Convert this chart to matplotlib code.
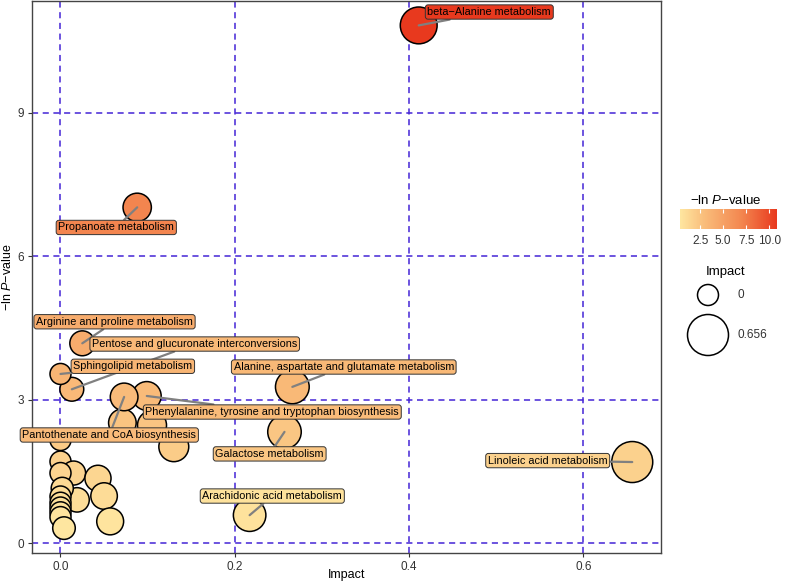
import numpy as np
import matplotlib
matplotlib.use("Agg")
import matplotlib.pyplot as plt
from matplotlib.colors import LinearSegmentedColormap, Normalize
from matplotlib.cm import ScalarMappable

plt.rcParams['font.family'] = ['Liberation Sans', 'DejaVu Sans']
plt.rcParams['mathtext.fontset'] = 'custom'
plt.rcParams['mathtext.rm'] = 'Liberation Sans'
plt.rcParams['mathtext.it'] = 'Liberation Sans:italic'

# labelled pathways: impact, -ln p, label position
names = ['beta\u2212Alanine metabolism', 'Propanoate metabolism',
         'Arginine and proline metabolism', 'Pentose and glucuronate interconversions',
         'Sphingolipid metabolism', 'Alanine, aspartate and glutamate metabolism',
         'Phenylalanine, tyrosine and tryptophan biosynthesis',
         'Pantothenate and CoA biosynthesis', 'Galactose metabolism',
         'Linoleic acid metabolism', 'Arachidonic acid metabolism']
impact = [0.411, 0.088, 0.025, 0.013, 0.0, 0.266, 0.099, 0.073, 0.257, 0.656, 0.217]
neglogp = [10.82, 7.02, 4.18, 3.22, 3.54, 3.27, 3.08, 3.06, 2.33, 1.70, 0.59]
label_x = [0.492, 0.064, 0.062, 0.154, 0.083, 0.325, 0.243, 0.056, 0.240, 0.559, 0.243]
label_y = [11.10, 6.60, 4.63, 4.165, 3.70, 3.685, 2.745, 2.265, 1.87, 1.73, 0.99]

# unlabelled pathways
other_impact = [0.071, 0.105, 0.130, 0.0, 0.0, 0.015, 0.0, 0.043, 0.050, 0.057,
                0.019, 0.002, 0.0, 0.0, 0.0, 0.0, 0.0, 0.004]
other_neglogp = [2.52, 2.47, 2.02, 2.16, 1.71, 1.47, 1.47, 1.36, 0.99, 0.46,
                 0.91, 1.15, 0.98, 0.85, 0.75, 0.65, 0.55, 0.32]

all_x = np.array(other_impact[:4] + impact[:8] + other_impact[4:] + impact[8:])
all_y = np.array(other_neglogp[:4] + neglogp[:8] + other_neglogp[4:] + neglogp[8:])

cmap = LinearSegmentedColormap.from_list(
    'pv', [(0, '#FEE6A0'), (0.255, '#F9BC7A'), (0.636, '#F3864F'), (1, '#E8391E')])
vmin, vmax = min(neglogp + other_neglogp), max(neglogp + other_neglogp)
norm = Normalize(vmin, vmax)
imp_max = max(impact)


def size_of(v):
    d_px = 21 + 20 * np.sqrt(np.asarray(v) / imp_max)
    return (d_px * 0.72) ** 2


fig = plt.figure(figsize=(7.85, 5.85), dpi=100)
ax = fig.add_axes([32 / 785, 1 - 553 / 585, 629 / 785, 552 / 585])

grid_c = '#4424D6'
for gx in [0, 0.2, 0.4, 0.6]:
    ax.axvline(gx, color=grid_c, ls=(0, (4, 3)), lw=1.1, zorder=0)
for gy in [0, 3, 6, 9]:
    ax.axhline(gy, color=grid_c, ls=(0, (4, 3)), lw=1.1, zorder=0)

ax.scatter(all_x, all_y, s=size_of(all_x), c=cmap(norm(all_y)),
           edgecolors='black', linewidths=1.1, zorder=2)

for n, x, y, lx, ly in zip(names, impact, neglogp, label_x, label_y):
    ax.annotate(n, xy=(x, y), xytext=(lx, ly), textcoords='data',
                ha='center', va='center', fontsize=7.8, color='black',
                bbox=dict(boxstyle='round,pad=0.2,rounding_size=0.25',
                          fc=cmap(norm(y)), ec='#333333', lw=0.7),
                arrowprops=dict(arrowstyle='-', color='#808080', lw=1.6,
                                shrinkA=0, shrinkB=0),
                zorder=3)

ax.set_xlim(-0.0327, 0.689)
ax.set_ylim(-0.2, 11.33)
ax.set_xticks([0, 0.2, 0.4, 0.6])
ax.set_xticklabels(['0.0', '0.2', '0.4', '0.6'])
ax.set_yticks([0, 3, 6, 9])
for sp in ax.spines.values():
    sp.set_color('#444444')
    sp.set_linewidth(1.0)
ax.tick_params(colors='#333333', labelsize=8.5, length=3, width=0.8, pad=3)
ax.set_xlabel('Impact', fontsize=9)
ax.set_ylabel('\u2212ln $\\mathit{P}$\u2212value', fontsize=9)
ax.xaxis.set_label_coords(0.5, -0.029)
ax.yaxis.set_label_coords(-0.028, 0.5)

# colour bar legend
cax = fig.add_axes([680 / 785, 1 - 229 / 585, 97 / 785, 20 / 585])
sm = ScalarMappable(norm=norm, cmap=cmap)
cb = fig.colorbar(sm, cax=cax, orientation='horizontal')
cb.outline.set_visible(False)
cb.set_ticks([2.5, 5.0, 7.5, 10.0])
cb.set_ticklabels(['2.5', '5.0', '7.5', '10.0'])
cax.tick_params(direction='in', color='white', length=3, width=0.8,
                top=True, bottom=True, labelsize=8.5, labelcolor='#333333', pad=4)
fig.text(726 / 785, 1 - 200 / 585, '\u2212ln $\\mathit{P}$\u2212value',
         ha='center', va='center', fontsize=9.5)

# size legend
lax = fig.add_axes([0, 0, 1, 1], facecolor='none')
lax.set_xlim(0, 785)
lax.set_ylim(585, 0)
lax.axis('off')
lax.text(726, 272, 'Impact', ha='center', va='center', fontsize=9.5)
legend_vals = [0, imp_max]
legend_y = [295, 335]
lax.scatter([708, 708], legend_y, s=size_of(legend_vals), facecolors='white',
            edgecolors='black', linewidths=1.1)
for v, yy in zip(legend_vals, legend_y):
    lax.text(737, yy, '0' if v == 0 else '%.3f' % v, ha='left', va='center',
             fontsize=8.5, color='#333333')

fig.savefig('out.png', dpi=100)
